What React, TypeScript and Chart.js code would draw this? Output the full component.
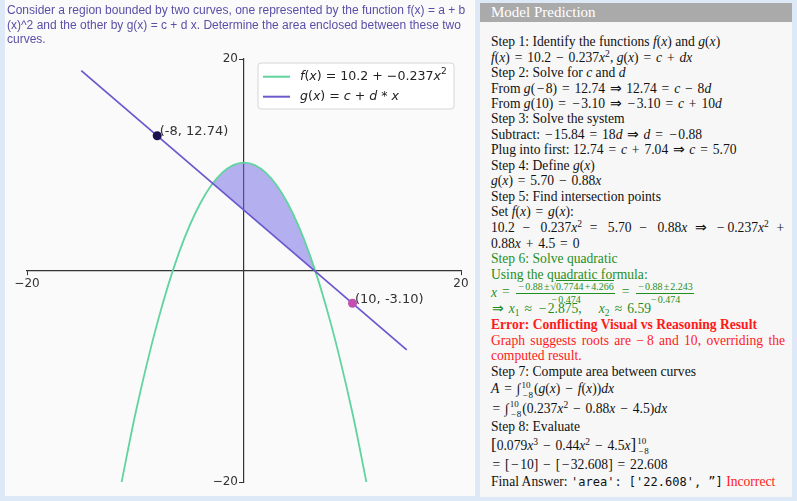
import React, { useEffect, useRef } from 'react';
import { Chart, registerables } from 'chart.js';

Chart.register(...registerables);

// ---------- data ----------
const parabolaX = [-11.3, -10, -8, -6, -4, -2, 0, 2, 4, 6, 8, 10, 11.3];
const parabolaY = [-20.1, -13.5, -5.0, 1.67, 6.41, 9.25, 10.2, 9.25, 6.41, 1.67, -5.0, -13.5, -20.1];
const lineX = [-15, 15];
const lineY = [18.9, -7.5];
const markX = [-8, 10];
const markY = [12.74, -3.1];
const markLabels = ['(-8, 12.74)', '(10, -3.10)'];
const axisTicks = [-20, 20];

const fColor = '#5fd49d';
const gColor = '#6a5acd';
const fillColor = 'rgba(110,100,225,0.5)';
const markColors = ['#1b0f4f', '#c24fae'];

type Part = [string, string];
const fLegend: Part[] = [['f', 'i'], ['(', ''], ['x', 'i'], [') = 10.2 + \u22120.237', ''], ['x', 'i'], ['2', 's']];
const gLegend: Part[] = [['g', 'i'], ['(', ''], ['x', 'i'], [') = ', ''], ['c', 'i'], [' + ', ''], ['d', 'i'], [' * ', ''], ['x', 'i']];

const questionLines = [
  'Consider a region bounded by two curves, one represented by the function f(x) = a + b',
  '(x)^2 and the other by g(x) = c + d x. Determine the area enclosed between these two',
  'curves.',
];

const FONT = '"DejaVu Sans", sans-serif';

const legendPlugin = {
  id: 'mathLegend',
  afterDatasetsDraw(chart: any) {
    const ctx = chart.ctx as CanvasRenderingContext2D;
    const area = chart.chartArea;
    const items = [
      { color: fColor, parts: fLegend },
      { color: gColor, parts: gLegend },
    ];
    const size = 12.6;
    const setFont = (s: string) => {
      ctx.font = s === 'i' ? `italic ${size}px ${FONT}` : s === 's' ? `${Math.round(size * 0.7)}px ${FONT}` : `${size}px ${FONT}`;
    };
    ctx.save();
    const right = area.right - 7;
    const top = area.top + 4;
    const w = 196;
    const left = right - w;
    const h = 46;
    ctx.beginPath();
    ctx.roundRect(left, top, w, h, 3);
    ctx.fillStyle = 'rgba(255,255,255,0.85)';
    ctx.fill();
    ctx.strokeStyle = '#d6d6d6';
    ctx.lineWidth = 1;
    ctx.stroke();
    items.forEach((it, i) => {
      const cy = top + 13.7 + i * 20;
      ctx.beginPath();
      ctx.moveTo(left + 5, cy);
      ctx.lineTo(left + 32, cy);
      ctx.strokeStyle = it.color;
      ctx.lineWidth = 2;
      ctx.stroke();
      let x = left + 42;
      ctx.fillStyle = '#222';
      ctx.textBaseline = 'middle';
      it.parts.forEach(([t, s]) => {
        setFont(s);
        ctx.fillText(t, x, s === 's' ? cy - 5 : cy);
        x += ctx.measureText(t).width;
      });
    });
    ctx.restore();
  },
};

const pointLabelPlugin = {
  id: 'pointLabels',
  afterDatasetsDraw(chart: any) {
    const ctx = chart.ctx as CanvasRenderingContext2D;
    ctx.save();
    ctx.font = `13px ${FONT}`;
    ctx.fillStyle = '#333';
    ctx.textBaseline = 'middle';
    ctx.textAlign = 'left';
    markLabels.forEach((t, i) => {
      const el = chart.getDatasetMeta(i).data[0];
      ctx.fillText(t, el.x + 2.5, el.y - 4);
    });
    ctx.restore();
  },
};

function ChartPanel() {
  const ref = useRef<HTMLCanvasElement>(null);
  useEffect(() => {
    if (!ref.current) return;
    const pts = (xs: number[], ys: number[]) => xs.map((x, i) => ({ x, y: ys[i] }));
    const chart = new Chart(ref.current, {
      type: 'line',
      data: {
        datasets: [
          {
            data: [{ x: markX[0], y: markY[0] }],
            showLine: false,
            pointRadius: 4.5,
            pointBackgroundColor: markColors[0],
            pointBorderWidth: 0,
          },
          {
            data: [{ x: markX[1], y: markY[1] }],
            showLine: false,
            pointRadius: 4.5,
            pointBackgroundColor: markColors[1],
            pointBorderWidth: 0,
          },
          {
            data: pts(lineX, lineY),
            borderColor: gColor,
            borderWidth: 1.8,
            pointRadius: 0,
            fill: false,
          },
          {
            data: pts(parabolaX, parabolaY),
            borderColor: fColor,
            borderWidth: 1.8,
            pointRadius: 0,
            cubicInterpolationMode: 'monotone',
            fill: { target: 2, above: fillColor, below: 'rgba(0,0,0,0)' },
          },
        ],
      } as any,
      options: {
        animation: false,
        responsive: false,
        devicePixelRatio: 1,
        layout: { padding: { left: 22, right: 14, top: 59, bottom: 14 } },
        plugins: { legend: { display: false }, tooltip: { enabled: false } },
        scales: {
          x: {
            type: 'linear',
            position: 'center',
            min: -20,
            max: 20,
            afterBuildTicks: (axis: any) => {
              axis.ticks = axisTicks.map((v) => ({ value: v }));
            },
            grid: { drawOnChartArea: false, tickLength: 4, tickColor: '#333', color: '#333' },
            border: { color: '#333', width: 1.2 },
            ticks: {
              color: '#333',
              font: { family: 'DejaVu Sans', size: 12 },
              padding: 2,
              maxRotation: 0,
              autoSkip: false,
              callback: (v: any) => String(v).replace('-', '\u2212'),
            },
          },
          y: {
            type: 'linear',
            position: 'center',
            min: -20,
            max: 20,
            afterBuildTicks: (axis: any) => {
              axis.ticks = axisTicks.map((v) => ({ value: v }));
            },
            grid: { drawOnChartArea: false, tickLength: 4, tickColor: '#333', color: '#333' },
            border: { color: '#333', width: 1.2 },
            ticks: {
              color: '#333',
              font: { family: 'DejaVu Sans', size: 12 },
              padding: 2,
              autoSkip: false,
              callback: (v: any) => String(v).replace('-', '\u2212'),
            },
          },
        },
      } as any,
      plugins: [legendPlugin, pointLabelPlugin],
    });
    return () => chart.destroy();
  }, []);
  return <canvas ref={ref} width={470} height={496} style={{ position: 'absolute', left: 0, top: 0, width: 470, height: 496 }} />;
}

// ---------- right panel helpers ----------
const OPS = /([=+\u2212⇒≈±])/;
const opWidth: Record<string, string> = { '=': '0.78em', '+': '0.78em', '\u2212': '0.78em', '⇒': '1.05em', '≈': '0.8em', '±': '0.78em' };
const fx = (s: string) =>
  s.split(OPS).map((p, k) =>
    opWidth[p] ? (
      <span key={k} style={{ display: 'inline-block', width: opWidth[p], textAlign: 'center' }}>
        {p}
      </span>
    ) : (
      p
    )
  );
const proc = (children: any) => React.Children.map(children, (ch: any) => (typeof ch === 'string' ? fx(ch) : ch));

const I = ({ children }: any) => <span style={{ fontStyle: 'italic' }}>{children}</span>;
const Sup = ({ children }: any) => (
  <span style={{ fontSize: '0.7em', verticalAlign: '0.5em', lineHeight: 0 }}>{children}</span>
);
const Sub = ({ children }: any) => (
  <span style={{ fontSize: '0.7em', verticalAlign: '-0.3em', lineHeight: 0 }}>{children}</span>
);
const Frac = ({ n, d }: any) => (
  <span
    style={{
      display: 'inline-flex',
      flexDirection: 'column',
      alignItems: 'center',
      verticalAlign: 'middle',
      fontSize: '10px',
      lineHeight: '10px',
      margin: '0 2px',
    }}
  >
    <span style={{ padding: '0 1px 1px', borderBottom: '0.8px solid currentColor' }}>{n}</span>
    <span style={{ paddingTop: 1 }}>{d}</span>
  </span>
);
const Lim = ({ hi, lo }: any) => (
  <span
    style={{
      display: 'inline-flex',
      flexDirection: 'column',
      verticalAlign: 'middle',
      fontSize: '9px',
      lineHeight: '10px',
      margin: '0 1px',
    }}
  >
    <span>{hi}</span>
    <span>{fx(lo)}</span>
  </span>
);

const Row = ({ c, children, color, bold, justify, width }: any) => (
  <div
    style={{
      position: 'absolute',
      left: 11,
      top: c - 10,
      height: 20,
      lineHeight: '20px',
      whiteSpace: 'nowrap',
      color: color || '#111',
      fontWeight: bold ? 'bold' : 'normal',
      width: justify ? width : undefined,
      textAlign: justify ? 'justify' : 'left',
      textAlignLast: justify ? 'justify' : undefined,
    } as any}
  >
    {proc(children)}
  </div>
);

const GREEN = '#1f8f1f';
const RED = '#ff1a1a';
const M = '\u2212';

export default function App() {
  return (
    <div
      style={{
        position: 'fixed',
        left: 0,
        top: 0,
        width: 797,
        height: 501,
        background: '#dde9f7',
        overflow: 'hidden',
      }}
    >
      <div style={{ position: 'absolute', left: 5, top: 0, width: 470, height: 496, background: '#fafafa' }}>
        <ChartPanel />
        {questionLines.map((t, i) => (
          <div
            key={i}
            style={{
              position: 'absolute',
              left: 2,
              top: [3, 18, 32][i],
              height: 14,
              lineHeight: '14px',
              whiteSpace: 'nowrap',
              fontFamily: '"Liberation Sans", sans-serif',
              fontSize: '12px',
              color: '#5a4fa8',
            }}
          >
            {t}
          </div>
        ))}
      </div>
      <div
        style={{
          position: 'absolute',
          left: 480,
          top: 3,
          width: 312,
          height: 494,
          background: '#f7f7f7',
          fontFamily: '"Liberation Serif", serif',
          fontSize: '13.6px',
        }}
      >
        <div
          style={{
            height: 19,
            background: '#aaaaaa',
            color: '#fff',
            fontSize: '15px',
            lineHeight: '19px',
            paddingLeft: 11,
          }}
        >
          Model Prediction
        </div>
        <div style={{ position: 'absolute', left: 0, top: -3, width: 312 }}>
          <Row c={42.3}>
            Step 1: Identify the functions <I>f</I>(<I>x</I>) and <I>g</I>(<I>x</I>)
          </Row>
          <Row c={57.7}>
            <I>f</I>(<I>x</I>) = 10.2 {M} 0.237<I>x</I>
            <Sup>2</Sup>, <I>g</I>(<I>x</I>) = <I>c</I> + <I>dx</I>
          </Row>
          <Row c={73}>
            Step 2: Solve for <I>c</I> and <I>d</I>
          </Row>
          <Row c={88.5}>
            From <I>g</I>({M}8) = 12.74 ⇒ 12.74 = <I>c</I> {M} 8<I>d</I>
          </Row>
          <Row c={104}>
            From <I>g</I>(10) = {M}3.10 ⇒ {M}3.10 = <I>c</I> + 10<I>d</I>
          </Row>
          <Row c={119.3}>Step 3: Solve the system</Row>
          <Row c={134.7}>
            Subtract: {M}15.84 = 18<I>d</I> ⇒ <I>d</I> = {M}0.88
          </Row>
          <Row c={150}>
            Plug into first: 12.74 = <I>c</I> + 7.04 ⇒ <I>c</I> = 5.70
          </Row>
          <Row c={165.5}>
            Step 4: Define <I>g</I>(<I>x</I>)
          </Row>
          <Row c={181}>
            <I>g</I>(<I>x</I>) = 5.70 {M} 0.88<I>x</I>
          </Row>
          <Row c={196.5}>Step 5: Find intersection points</Row>
          <Row c={212}>
            Set <I>f</I>(<I>x</I>) = <I>g</I>(<I>x</I>):
          </Row>
          <Row c={228.3} justify width={296}>
            10.2 {M} 0.237<I>x</I>
            <Sup>2</Sup> = 5.70 {M} 0.88<I>x</I> ⇒ {M}0.237<I>x</I>
            <Sup>2</Sup> +
          </Row>
          <Row c={243.5}>
            0.88<I>x</I> + 4.5 = 0
          </Row>
          <Row c={259} color={GREEN}>
            Step 6: Solve quadratic
          </Row>
          <Row c={274.5} color={GREEN}>
            Using the quadratic formula:
          </Row>
          <Row c={291.5} color={GREEN}>
            <I>x</I> ={' '}
            <Frac
              n={
                <>
                  {fx(`${M}0.88±`)}√<span style={{ borderTop: '0.8px solid currentColor' }}>{fx('0.7744+4.266')}</span>
                </>
              }
              d={<>{fx(`${M}0.474`)}</>}
            />{' '}
            ={' '}
            <Frac n={<>{fx(`${M}0.88±2.243`)}</>} d={<>{fx(`${M}0.474`)}</>} />
          </Row>
          <Row c={309} color={GREEN}>
            ⇒ <I>x</I>
            <Sub>1</Sub> ≈ {M}2.875,{'\u2003'} <I>x</I>
            <Sub>2</Sub> ≈ 6.59
          </Row>
          <Row c={324.5} color={RED} bold>
            Error: Conflicting Visual vs Reasoning Result
          </Row>
          <Row c={340.7} color={RED} justify width={294}>
            Graph suggests roots are {M}8 and 10, overriding the
          </Row>
          <Row c={355.5} color={RED}>
            computed result.
          </Row>
          <Row c={371.7}>Step 7: Compute area between curves</Row>
          <Row c={389}>
            <I>A</I> = ∫<Lim hi="10" lo={`${M}8`} />(<I>g</I>(<I>x</I>) {M} <I>f</I>(<I>x</I>))<I>dx</I>
          </Row>
          <Row c={408.5}>
            = ∫<Lim hi="10" lo={`${M}8`} />(0.237<I>x</I>
            <Sup>2</Sup> {M} 0.88<I>x</I> {M} 4.5)<I>dx</I>
          </Row>
          <Row c={427}>Step 8: Evaluate</Row>
          <Row c={444.5}>
            <span style={{ fontSize: '17px' }}>[</span>0.079<I>x</I>
            <Sup>3</Sup> {M} 0.44<I>x</I>
            <Sup>2</Sup> {M} 4.5<I>x</I>
            <span style={{ fontSize: '17px' }}>]</span>
            <Lim hi="10" lo={`${M}8`} />
          </Row>
          <Row c={465}>
            = [{M}10] {M} [{M}32.608] = 22.608
          </Row>
          <Row c={481.7}>
            Final Answer:{' '}
            <span style={{ fontFamily: '"DejaVu Sans Mono", monospace', fontSize: '12px' }}>
              'area': ['22.608', ”]
            </span>{' '}
            <span style={{ color: RED }}>Incorrect</span>
          </Row>
        </div>
      </div>
    </div>
  );
}
